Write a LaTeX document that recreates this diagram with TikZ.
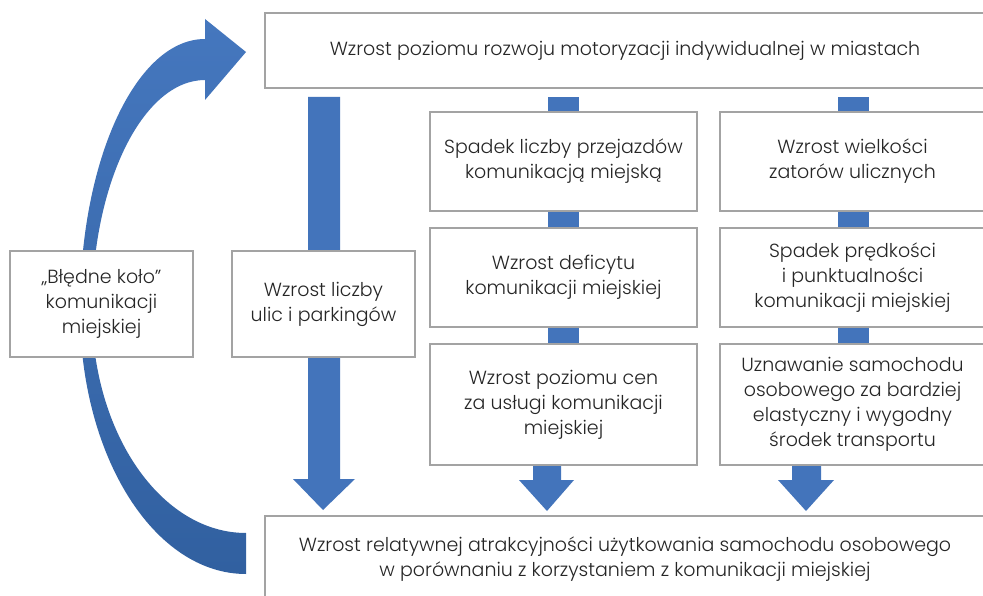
\documentclass[tikz,border=0pt]{standalone}
\usepackage{fontspec}
\setmainfont{Poppins}[UprightFont={* Light}]
\definecolor{arrowblue}{HTML}{4374BB}
\definecolor{curvetop}{HTML}{4577BE}
\definecolor{curvebot}{HTML}{3160A0}
\definecolor{boxgray}{HTML}{A3A3A3}
\definecolor{textgray}{HTML}{262626}
\begin{document}
\begin{tikzpicture}[x=1pt,y=-1pt,
  box/.style={draw=boxgray, line width=1.5pt, fill=white, align=center,
    text=textgray, inner sep=0pt, font=\fontsize{19}{25}\selectfont},
  blockarrow/.style={fill=arrowblue, draw=none}]
\useasboundingbox (0,0) rectangle (983,596);
\fill[white] (0,0) rectangle (983,596);

% curved loop arrow
\shade[top color=curvetop, bottom color=curvebot]
  (246,574) .. controls (154,574) and (80,456) .. (80,310)
  .. controls (80,160) and (136,39) .. (205,39)
  -- (205,19) -- (246,52) -- (205,100) -- (205,80)
  .. controls (143,80) and (92,183) .. (92,310)
  .. controls (92,433) and (161,533) .. (246,533) -- cycle;

% block arrows (shafts behind boxes)
\fill[blockarrow] (308,97) -- (340,97) -- (340,479) -- (355,479) -- (323,510)
  -- (293,479) -- (308,479) -- cycle;
\fill[blockarrow] (548,97) rectangle (579,466);
\fill[blockarrow] (533,464) -- (561,464) -- (561,480) -- (574,480) -- (547,511)
  -- (519,480) -- (533,480) -- cycle;
\fill[blockarrow] (838,97) rectangle (869,466);
\fill[blockarrow] (792,464) -- (821,464) -- (821,480) -- (834,480) -- (806,511)
  -- (778,480) -- (792,480) -- cycle;

% boxes
\node[box, minimum width=720pt, minimum height=75pt] (top) at (625,50.5)
  {Wzrost poziomu rozwoju motoryzacji indywidualnej w miastach};
\node[box, minimum width=720pt, minimum height=86pt] (bottom) at (625,559)
  {Wzrost relatywnej atrakcyjności użytkowania samochodu osobowego\\
   w porównaniu z korzystaniem z komunikacji miejskiej};
\node[box, minimum width=183pt, minimum height=106pt] (loop) at (101.5,304)
  {„Błędne koło”\\komunikacji\\miejskiej};
\node[box, minimum width=183pt, minimum height=106pt] (streets) at (323.5,304)
  {Wzrost liczby\\ulic i parkingów};
\node[box, minimum width=267pt, minimum height=99pt] (b21) at (563.5,161.5)
  {Spadek liczby przejazdów\\komunikacją miejską};
\node[box, minimum width=267pt, minimum height=99pt] (b22) at (563.5,277.5)
  {Wzrost deficytu\\komunikacji miejskiej};
\node[box, minimum width=267pt, minimum height=121pt] (b23) at (563.5,404.5)
  {Wzrost poziomu cen\\za usługi komunikacji\\miejskiej};
\node[box, minimum width=265pt, minimum height=99pt] (b31) at (852.5,161.5)
  {Wzrost wielkości\\zatorów ulicznych};
\node[box, minimum width=265pt, minimum height=99pt] (b32) at (852.5,277.5)
  {Spadek prędkości\\i punktualności\\komunikacji miejskiej};
\node[box, minimum width=265pt, minimum height=121pt] (b33) at (852.5,404.5)
  {Uznawanie samochodu\\osobowego za bardziej\\elastyczny i wygodny\\środek transportu};
\end{tikzpicture}
\end{document}
